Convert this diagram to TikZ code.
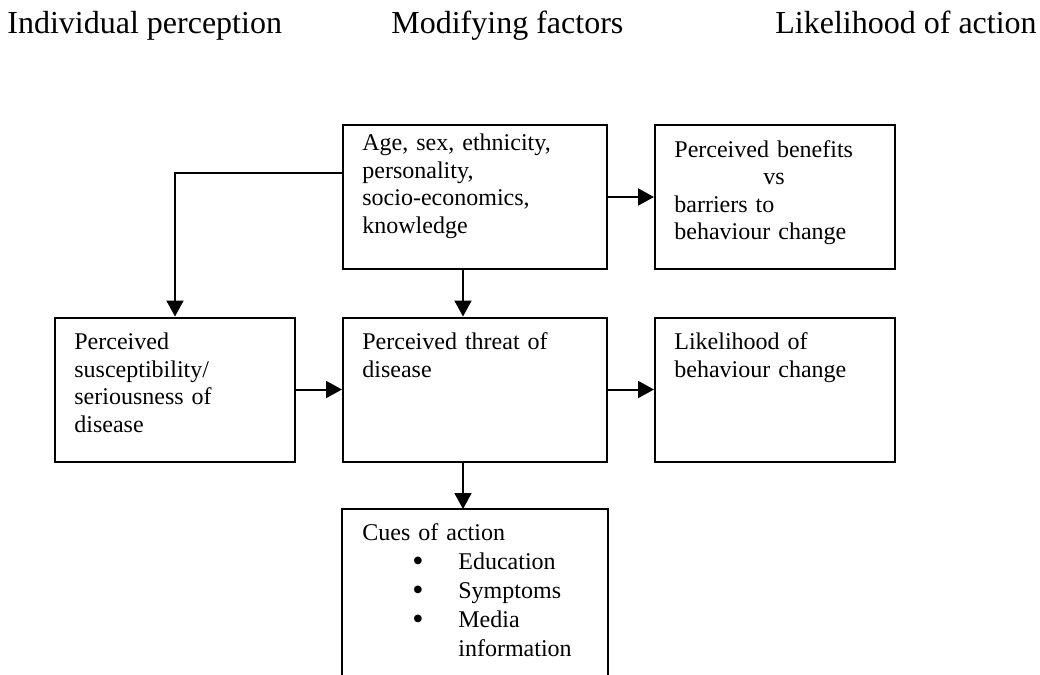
\documentclass[tikz,border=0pt]{standalone}
\usepackage{fontspec}
\setmainfont{Liberation Serif}
\usetikzlibrary{arrows.meta,positioning}

\tikzset{
  box/.style={draw, line width=1pt, minimum width=132pt, minimum height=72pt, inner sep=0pt},
  narrowbox/.style={box, minimum width=120pt},
  boxtext/.style={anchor=base west, inner sep=0pt, text width=120pt, align=left, font=\fontsize{12}{13.8}\selectfont},
  heading/.style={anchor=base west, inner sep=0pt, font=\fontsize{16}{19}\selectfont},
  arr/.style={line width=1pt, -{Triangle[length=8pt,width=8.5pt]}}
}
\newcommand{\cueitem}[1]{\hspace*{25pt}\makebox[23pt][l]{\raisebox{-0.8pt}{\fontsize{16}{14.5}\selectfont\textbullet}}#1}

\begin{document}
\begin{tikzpicture}[x=0.5pt,y=-0.5pt]
	 \useasboundingbox (0,0) rectangle (1040,675);
	 
	 % column headings
	 \node[heading] (hind) at (7,33) {Individual perception};
	 \node[heading] (hmod) at (391,33) {Modifying factors};
	 \node[heading] (hlik) at (775,33) {Likelihood of action};
	 
	 % boxes
	 \node[box] (factors) at (475,197) {};
	 \node[narrowbox] (benefits) at (775,197) {};
	 \node[narrowbox] (percsus) at (175,389.5) {};
	 \node[box] (threat) at (475,389.5) {};
	 \node[narrowbox] (likely) at (775,389.5) {};
	 \node[box, draw=none, anchor=north, minimum height=83pt] (cues) at (475,509) {};
	 \draw[line width=1pt] (cues.south west) -- (cues.north west) -- (cues.north east) -- (cues.south east);
	 
	 % box texts
	 \node[boxtext] (factorstxt) at ([shift={(10pt,-13.35pt)}]factors.north west) {Age, sex, ethnicity,\\ personality,\\ socio-economics,\\ knowledge};
	 \node[boxtext] (benefitstxt) at ([shift={(10pt,-16.5pt)}]benefits.north west) {Perceived benefits\\ \hspace*{44.5pt}vs\\ barriers to\\ behaviour change};
	 \node[boxtext] (percsustxt) at ([shift={(10pt,-16.5pt)}]percsus.north west) {Perceived\\ susceptibility/\\ seriousness of\\ disease};
	 \node[boxtext] (threattxt) at ([shift={(10pt,-16.5pt)}]threat.north west) {Perceived threat of\\ disease};
	 \node[boxtext] (likelytxt) at ([shift={(10pt,-16.5pt)}]likely.north west) {Likelihood of\\ behaviour change};
	 \node[boxtext, font=\fontsize{12}{14.5}\selectfont] (cuestxt) at ([shift={(10pt,-15.85pt)}]cues.north west) {Cues of action\\ \cueitem{Education}\\ \cueitem{Symptoms}\\ \cueitem{Media}\\ \hspace*{48pt}information};
	 
	 % arrows
	 \draw[arr] ([yshift=12pt]factors.west) -| (percsus.north);
	 \draw[arr] ([xshift=-6pt]factors.south) -- ([xshift=-6pt]threat.north);
	 \draw[arr] (factors.east) -- (benefits.west);
	 \draw[arr] (percsus.east) -- (threat.west);
	 \draw[arr] (threat.east) -- (likely.west);
	 \draw[arr] ([xshift=-6pt]threat.south) -- ([xshift=-6pt]cues.north);
\end{tikzpicture}
\end{document}
